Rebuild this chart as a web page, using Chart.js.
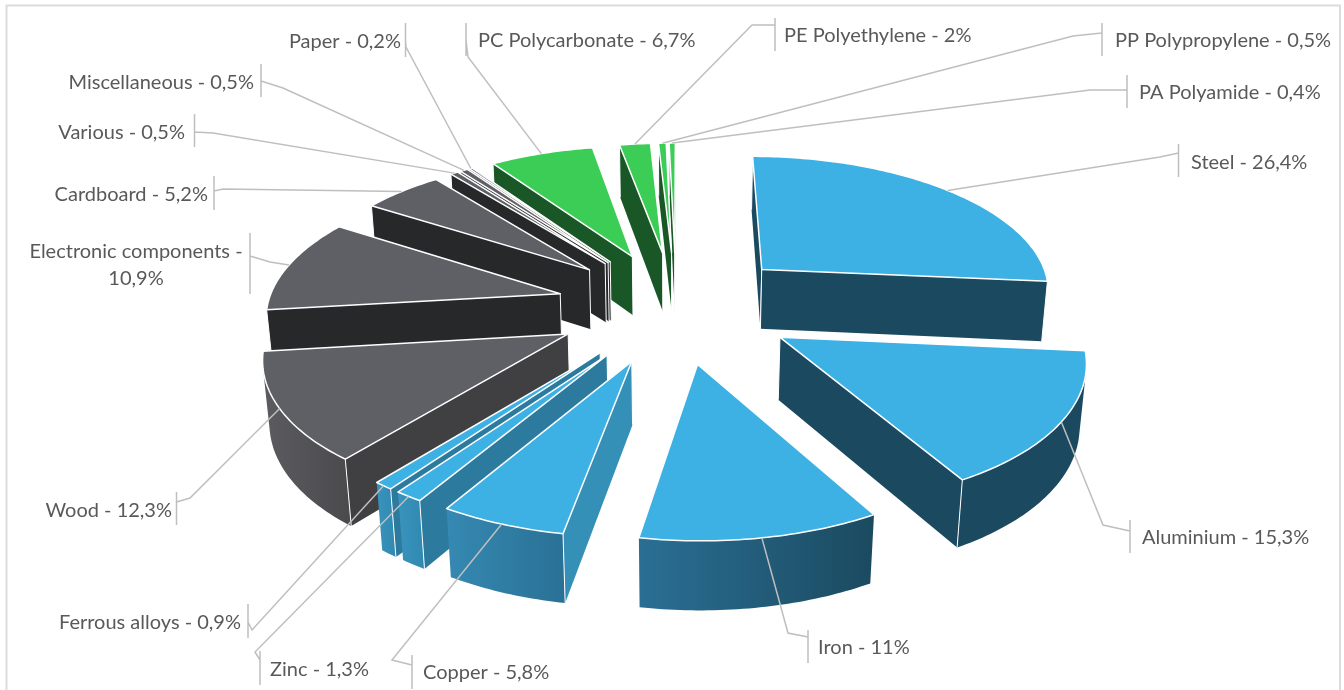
<!DOCTYPE html>
<html>
<head>
<meta charset="utf-8">
<title>Materials</title>
<script src="https://cdn.jsdelivr.net/npm/chart.js@4/dist/chart.umd.min.js"></script>
<style>
  html, body { margin: 0; padding: 0; background: #fff; overflow: hidden; }
  canvas { display: block; }
</style>
</head>
<body>
<canvas id="chart" width="1344" height="690"></canvas>
<script>
// DATA
var categories = ['Steel', 'Aluminium', 'Iron', 'Copper', 'Zinc', 'Ferrous alloys', 'Wood',
  'Electronic components', 'Cardboard', 'Various', 'Miscellaneous', 'Paper',
  'PC Polycarbonate', 'PE Polyethylene', 'PP Polypropylene', 'PA Polyamide'];
var shares = [26.4, 15.3, 11, 5.8, 1.3, 0.9, 12.3, 10.9, 5.2, 0.5, 0.5, 0.2, 6.7, 2, 0.5, 0.4];

// STYLE: one entry per category
var blue = '#3db0e4', grey = '#5f6066', green = '#3ccd57';
var topColors = [blue, blue, blue, blue, blue, blue, grey, grey, grey, grey, grey, grey, green, green, green, green];
var cutColors = ['#1b4a60', '#1b4a60', '#3590b8', '#3590b8', '#2c7a9e', '#2c7a9e', '#404042',
  '#27282a', '#27282a', '#27282a', '#27282a', '#27282a', '#1a5726', '#1a5726', '#1a5726', '#1a5726'];
// outer wall gradient, left to right on screen
var wallLeft = ['#1b4a60', '#1b4a60', '#2a6f94', '#3589b2', '#3a93bd', '#3a93bd', '#5c5c60',
  '#27282a', '#27282a', '#27282a', '#27282a', '#27282a', '#1a5726', '#1a5726', '#1a5726', '#1a5726'];
var wallRight = ['#1b4a60', '#1b4a60', '#1b4a60', '#2a7095', '#3089b0', '#3089b0', '#4a4a4d',
  '#27282a', '#27282a', '#27282a', '#27282a', '#27282a', '#1a5726', '#1a5726', '#1a5726', '#1a5726'];

// LABEL LAYOUT: text anchor, tick bar, elbow of the leader line
var labelLayout = [
  { x: 1191, y: 163, align: 'left',  tick: [1178.5, 144, 177], join: 153, elbow: [1160, 157] },
  { x: 1142, y: 538, align: 'left',  tick: [1130, 520, 553],   join: 531, elbow: [1103, 525] },
  { x: 818,  y: 648, align: 'left',  tick: [808, 630, 663],    join: 637, elbow: [788, 633] },
  { x: 423,  y: 673, align: 'left',  tick: [412, 655, 689],    join: 665, elbow: [392, 660] },
  { x: 270,  y: 670, align: 'left',  tick: [260, 651, 685],    join: 660, elbow: [255, 652] },
  { x: 241,  y: 623, align: 'right', tick: [248, 604, 638],    join: 622, elbow: [252, 630] },
  { x: 172,  y: 511, align: 'right', tick: [176.5, 492, 525],  join: 502, elbow: [190, 498] },
  { x: 136,  y: 252, align: 'center', wrap: true, tick: [250, 233, 294], join: 256, elbow: [270, 262] },
  { x: 208,  y: 195, align: 'right', tick: [214, 176, 210],    join: 191, elbow: [223, 189] },
  { x: 185,  y: 133, align: 'right', tick: [194.5, 114, 147],  join: 132, elbow: [213, 133] },
  { x: 254,  y: 83,  align: 'right', tick: [261, 64, 97],      join: 81,  elbow: [283, 88] },
  { x: 401,  y: 42,  align: 'right', tick: [405.5, 23, 57],    join: 40,  elbow: [406, 47] },
  { x: 478,  y: 41,  align: 'left',  tick: [466, 23, 56],      join: 40,  elbow: [468, 57] },
  { x: 784,  y: 36,  align: 'left',  tick: [775, 18, 51],      join: 25,  elbow: [752, 25] },
  { x: 1115, y: 41,  align: 'left',  tick: [1102, 23, 56],     join: 33,  elbow: [1073, 36] },
  { x: 1139, y: 93,  align: 'left',  tick: [1127, 75, 108],    join: 90,  elbow: [1090, 90] }
];

// tilted camera used to turn the flat arcs into a 3D pie
var camera = { zoomX: 1.545, zoomY: 0.7214, persp: 0.13, shiftX: 4, shiftY: -39, depth: 61, depthPersp: 0.1, converge: 0.016 };

function project(arc, u, v, z) {
  var R = arc.outerRadius;
  var w = 1 - camera.persp * v;
  return {
    x: arc.x + camera.shiftX + R * camera.zoomX * u / (w + camera.converge * z),
    y: arc.y + camera.shiftY + R * camera.zoomY * v / w + camera.depth * z * (1 + camera.depthPersp * v)
  };
}

function explosion(arc) {
  // same displacement the stock arc applies for options.offset
  var mid = (arc.startAngle + arc.endAngle) / 2;
  var e = (arc.options.offset / 4) / arc.outerRadius;
  return { u: Math.cos(mid) * e, v: Math.sin(mid) * e };
}

function rimPoint(arc, angle, z) {
  var e = explosion(arc);
  return project(arc, e.u + Math.cos(angle), e.v + Math.sin(angle), z);
}

function apexPoint(arc, z) {
  var e = explosion(arc);
  return project(arc, e.u, e.v, z);
}

function area(pts) {
  var s = 0;
  for (var i = 0; i < pts.length; i++) {
    var a = pts[i], b = pts[(i + 1) % pts.length];
    s += a.x * b.y - b.x * a.y;
  }
  return s;
}

function fillPoly(ctx, pts, fill) {
  ctx.beginPath();
  pts.forEach(function (p, i) { if (i) { ctx.lineTo(p.x, p.y); } else { ctx.moveTo(p.x, p.y); } });
  ctx.closePath();
  ctx.fillStyle = fill;
  ctx.fill();
}

function whiteLine(ctx, a, b, width) {
  ctx.beginPath();
  ctx.moveTo(a.x, a.y);
  ctx.lineTo(b.x, b.y);
  ctx.strokeStyle = '#fff';
  ctx.lineWidth = width;
  ctx.stroke();
}

function drawCut(ctx, arc, angle, from, color) {
  // from: true when the top outline runs apex -> rim on this edge
  var a0 = apexPoint(arc, 0), a1 = apexPoint(arc, 1);
  var r0 = rimPoint(arc, angle, 0), r1 = rimPoint(arc, angle, 1);
  var quad = from ? [a0, r0, r1, a1] : [r0, a0, a1, r1];
  if (area(quad) >= 0) { return; }
  fillPoly(ctx, quad, color);
  whiteLine(ctx, a0, a1, 1);
  whiteLine(ctx, r0, r1, 1);
}

function drawWall(ctx, arc, left, right) {
  var steps = Math.max(2, Math.ceil((arc.endAngle - arc.startAngle) * 60));
  var top = [], bottom = [];
  for (var i = 0; i < steps; i++) {
    var a = arc.startAngle + (arc.endAngle - arc.startAngle) * i / steps;
    var b = arc.startAngle + (arc.endAngle - arc.startAngle) * (i + 1) / steps;
    var q = [rimPoint(arc, a, 0), rimPoint(arc, b, 0), rimPoint(arc, b, 1), rimPoint(arc, a, 1)];
    if (area(q) < 0) {
      if (!top.length) { top.push(q[0]); bottom.push(q[3]); }
      top.push(q[1]);
      bottom.push(q[2]);
    }
  }
  if (!top.length) { return; }
  var pts = top.concat(bottom.reverse());
  var xs = pts.map(function (p) { return p.x; });
  var g = ctx.createLinearGradient(Math.min.apply(null, xs), 0, Math.max.apply(null, xs), 0);
  g.addColorStop(0, left);
  g.addColorStop(1, right);
  fillPoly(ctx, pts, g);
}

function drawTop(ctx, arc, color) {
  var steps = Math.max(2, Math.ceil((arc.endAngle - arc.startAngle) * 60));
  var pts = [apexPoint(arc, 0)];
  for (var i = 0; i <= steps; i++) {
    pts.push(rimPoint(arc, arc.startAngle + (arc.endAngle - arc.startAngle) * i / steps, 0));
  }
  fillPoly(ctx, pts, color);
  ctx.strokeStyle = '#fff';
  ctx.lineWidth = 1.5;
  ctx.lineJoin = 'round';
  ctx.stroke();
}

var pie3d = {
  id: 'pie3d',
  beforeDraw: function (chart) {
    // chart frame, cut off by the bottom of the picture
    var ctx = chart.ctx;
    ctx.save();
    ctx.fillStyle = '#fff';
    ctx.fillRect(0, 0, chart.width, chart.height);
    ctx.strokeStyle = '#dcdcdc';
    ctx.lineWidth = 2;
    ctx.beginPath();
    ctx.moveTo(6.5, chart.height);
    ctx.lineTo(6.5, 5.5);
    ctx.lineTo(1340, 5.5);
    ctx.lineTo(1340, chart.height);
    ctx.stroke();
    ctx.restore();
  },
  beforeDatasetDraw: function (chart, args) {
    var ctx = chart.ctx;
    var order = args.meta.data.map(function (arc, i) { return i; });
    order.sort(function (a, b) {
      var A = args.meta.data[a], B = args.meta.data[b];
      return Math.sin((A.startAngle + A.endAngle) / 2) - Math.sin((B.startAngle + B.endAngle) / 2);
    });
    ctx.save();
    order.forEach(function (i) {
      var arc = args.meta.data[i];
      drawWall(ctx, arc, wallLeft[i], wallRight[i]);
      drawCut(ctx, arc, arc.startAngle, true, cutColors[i]);
      drawCut(ctx, arc, arc.endAngle, false, cutColors[i]);
      drawTop(ctx, arc, topColors[i]);
    });
    ctx.restore();
    return false;
  },
  afterDatasetsDraw: function (chart) {
    var ctx = chart.ctx;
    var arcs = chart.getDatasetMeta(0).data;
    ctx.save();
    ctx.font = '20px Lato';
    ctx.textBaseline = 'middle';
    categories.forEach(function (name, i) {
      var l = labelLayout[i], arc = arcs[i];
      var p = rimPoint(arc, (arc.startAngle + arc.endAngle) / 2, 0);
      ctx.strokeStyle = '#bfbfbf';
      ctx.lineWidth = 1.5;
      ctx.beginPath();
      ctx.moveTo(p.x, p.y);
      ctx.lineTo(l.elbow[0], l.elbow[1]);
      ctx.lineTo(l.tick[0], l.join);
      ctx.moveTo(l.tick[0], l.tick[1]);
      ctx.lineTo(l.tick[0], l.tick[2]);
      ctx.stroke();

      var value = String(shares[i]).replace('.', ',') + '%';
      ctx.fillStyle = '#595959';
      ctx.textAlign = l.align;
      if (l.wrap) {
        ctx.fillText(name + ' -', l.x, l.y);
        ctx.fillText(value, l.x, l.y + 27);
      } else {
        ctx.fillText(name + ' - ' + value, l.x, l.y);
      }
    });
    ctx.restore();
  }
};

new Chart(document.getElementById('chart'), {
  type: 'pie',
  data: {
    labels: categories,
    datasets: [{
      data: shares,
      backgroundColor: topColors,
      borderColor: '#fff',
      borderWidth: 0,
      offset: 311,
      rotation: 0.1
    }]
  },
  options: {
    responsive: false,
    animation: false,
    plugins: { legend: { display: false }, tooltip: { enabled: false } }
  },
  plugins: [pie3d]
});
</script>
</body>
</html>
